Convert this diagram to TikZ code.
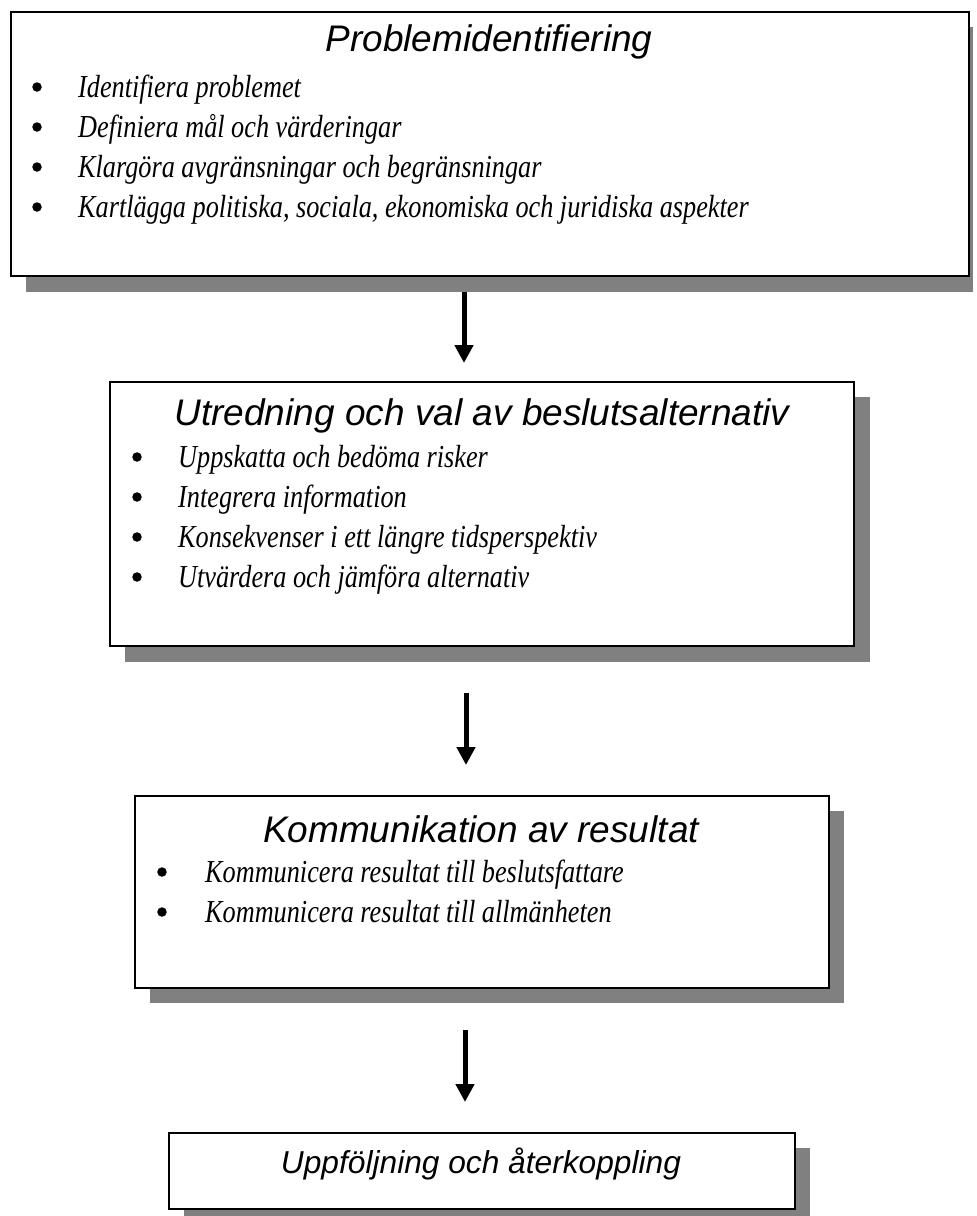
\documentclass[tikz,border=0pt]{standalone}
\usepackage{fontspec}
\usetikzlibrary{arrows.meta,calc}
\newfontfamily\titlefont{Liberation Sans}
\newfontfamily\bodyfont[FakeStretch=0.82]{Liberation Serif}
\definecolor{shadowgray}{HTML}{808080}
\begin{document}
\begin{tikzpicture}[x=1pt,y=-1pt,
  box/.style={draw=black, line width=2pt, fill=white, rectangle, inner sep=0pt, anchor=north west},
  shade/.style={fill=shadowgray},
  title/.style={font=\titlefont\itshape\fontsize{37}{44}\selectfont, anchor=base, inner sep=0pt},
  smalltitle/.style={font=\titlefont\itshape\fontsize{31.7}{38}\selectfont, anchor=base, inner sep=0pt},
  item/.style={font=\bodyfont\itshape\fontsize{32}{40}\selectfont, anchor=base west, inner sep=0pt},
  dot/.style={circle, fill=black, minimum size=9.5pt, inner sep=0pt},
  arr/.style={line width=5pt, -{Triangle[length=18pt,width=18pt]}}]
\useasboundingbox (0,0) rectangle (977,1216);
\fill[white] (0,0) rectangle (977,1216);
% shadows
\fill[shade] (26,27) rectangle (973,292);
\fill[shade] (125,397) rectangle (870,662);
\fill[shade] (150,811) rectangle (844,1003);
\fill[shade] (184,1148) rectangle (810,1216);
% boxes
\node[box, minimum width=958pt, minimum height=264pt] (b1) at (10,11) {};
\node[box, minimum width=744pt, minimum height=264pt] (b2) at (109,381) {};
\node[box, minimum width=694pt, minimum height=192pt] (b3) at (134,795) {};
\node[box, minimum width=626pt, minimum height=76pt] (b4) at (168,1132) {};
% box 1
\node[title] (t1) at (489,51) {Problemidentifiering};
\node[dot] (d11) at (37,87) {};
\node[dot] (d12) at (37,127) {};
\node[dot] (d13) at (37,167) {};
\node[dot] (d14) at (37,207) {};
\node[item] (i11) at (78,97) {Identifiera problemet};
\node[item] (i12) at (78,137) {Definiera mål och värderingar};
\node[item] (i13) at (78,177) {Klargöra avgränsningar och begränsningar};
\node[item] (i14) at (78,217) {Kartlägga politiska, sociala, ekonomiska och juridiska aspekter};
% box 2
\node[title] (t2) at (482,425) {Utredning och val av beslutsalternativ};
\node[dot] (d21) at (137,457) {};
\node[dot] (d22) at (137,497) {};
\node[dot] (d23) at (137,537) {};
\node[dot] (d24) at (137,577) {};
\node[item] (i21) at (178,467) {Uppskatta och bedöma risker};
\node[item] (i22) at (178,507) {Integrera information};
\node[item] (i23) at (178,547) {Konsekvenser i ett längre tidsperspektiv};
\node[item] (i24) at (178,587) {Utvärdera och jämföra alternativ};
% box 3
\node[title] (t3) at (481,842) {Kommunikation av resultat};
\node[dot] (d31) at (162,872) {};
\node[dot] (d32) at (162,912) {};
\node[item] (i31) at (205,882) {Kommunicera resultat till beslutsfattare};
\node[item] (i32) at (205,922) {Kommunicera resultat till allmänheten};
% box 4
\node[smalltitle] (t4) at (481,1173) {Uppföljning och återkoppling};
% arrows
\coordinate (a1s) at (464,292);
\coordinate (a1e) at (464,363);
\coordinate (a2s) at (466,693);
\coordinate (a2e) at (466,765);
\coordinate (a3s) at (465,1030);
\coordinate (a3e) at (465,1102);
\draw[arr] (a1s) -- (a1e);
\draw[arr] (a2s) -- (a2e);
\draw[arr] (a3s) -- (a3e);
\end{tikzpicture}
\end{document}
